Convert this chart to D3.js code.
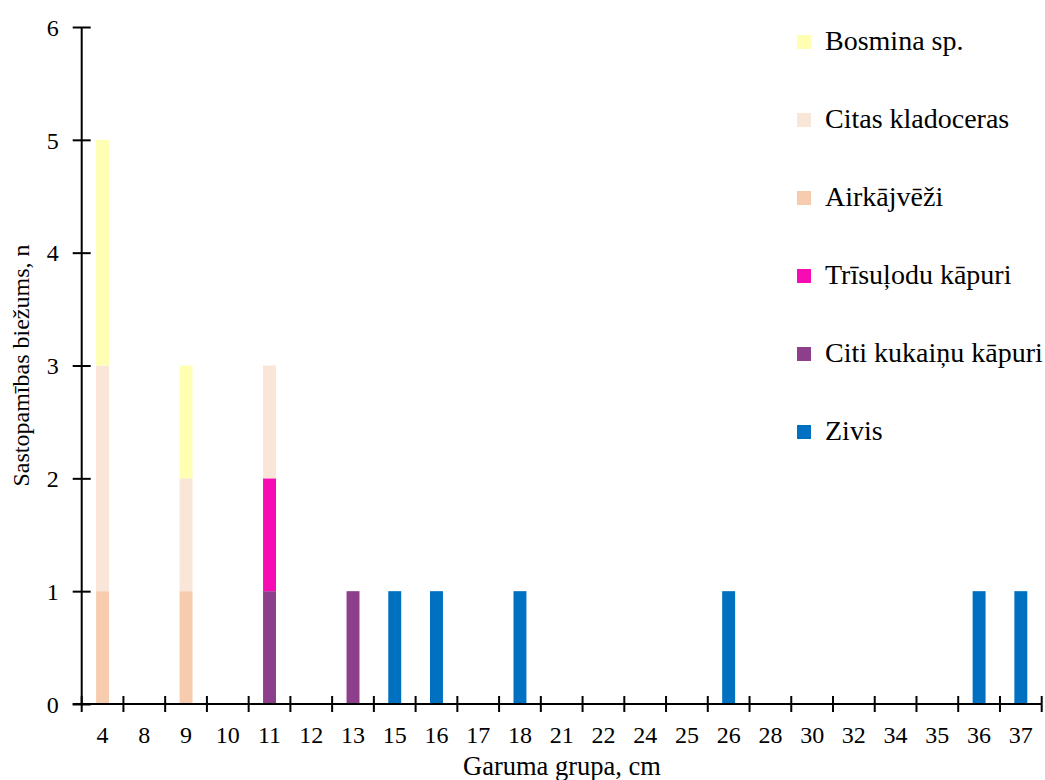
<!DOCTYPE html>
<html>
<head>
<meta charset="utf-8">
<script src="https://cdn.jsdelivr.net/npm/d3@7"></script>
<style>
  body { margin: 0; background: #fff; }
  svg text { font-family: "Liberation Serif", "Times New Roman", Times, serif !important; fill: #000; }
</style>
</head>
<body>
<svg id="chart" width="1045" height="780"></svg>
<script>
const categories = ["4","8","9","10","11","12","13","15","16","17","18","21","22","24","25","26","28","30","32","34","35","36","37"];
const seriesNames = ["Bosmina sp.","Citas kladoceras","Airkājvēži","Trīsuļodu kāpuri","Citi kukaiņu kāpuri","Zivis"];
const colors = ["#ffffb3","#fae5d9","#f7cbad","#f60cb2","#8d3f8b","#0070c0"];
// values per category, same order as categories
const bosmina      = [2,0,1,0,0,0,0,0,0,0,0,0,0,0,0,0,0,0,0,0,0,0,0];
const citasKlad    = [2,0,1,0,1,0,0,0,0,0,0,0,0,0,0,0,0,0,0,0,0,0,0];
const airkajvezi   = [1,0,1,0,0,0,0,0,0,0,0,0,0,0,0,0,0,0,0,0,0,0,0];
const trisulodu    = [0,0,0,0,1,0,0,0,0,0,0,0,0,0,0,0,0,0,0,0,0,0,0];
const citiKukainu  = [0,0,0,0,1,0,1,0,0,0,0,0,0,0,0,0,0,0,0,0,0,0,0];
const zivis        = [0,0,0,0,0,0,0,1,1,0,1,0,0,0,0,1,0,0,0,0,0,1,1];
const yTicks = [0,1,2,3,4,5,6];

const seriesValues = [bosmina, citasKlad, airkajvezi, trisulodu, citiKukainu, zivis];
const table = categories.map((c, i) => {
  const row = { cat: c };
  seriesNames.forEach((s, j) => row[s] = seriesValues[j][i]);
  return row;
});
// stack order: reverse of legend (Zivis bottom)
const stackKeys = seriesNames.slice().reverse();
const stacked = d3.stack().keys(stackKeys)(table);
const color = d3.scaleOrdinal().domain(seriesNames).range(colors);

const svg = d3.select("#chart");
const mLeft = 81.7, mRight = 1041.7, mTop = 27, mBottom = 704;

const x = d3.scaleBand().domain(categories).range([mLeft, mRight]).paddingInner(0.69).paddingOuter(0.345);
const xb = d3.scaleBand().domain(categories).range([mLeft, mRight]);
const y = d3.scaleLinear().domain([0, 6]).range([mBottom, mTop]);

svg.append("g").selectAll("g").data(stacked).join("g")
  .attr("fill", d => color(d.key))
  .selectAll("rect").data(d => d.filter(p => p[1] - p[0] > 0)).join("rect")
  .attr("x", d => x(d.data.cat))
  .attr("width", x.bandwidth())
  .attr("y", d => y(d[1]))
  .attr("height", d => y(d[0]) - y(d[1]));

// Y axis
const yAxis = svg.append("g").attr("transform", `translate(${mLeft},0)`)
  .call(d3.axisLeft(y).tickValues(yTicks).tickSize(9).tickPadding(14).tickFormat(d3.format("d")));
yAxis.attr("font-family", null);
yAxis.selectAll(".tick line").attr("x2", -9).attr("x1", 9);
yAxis.select(".domain").remove();
yAxis.append("line").attr("x1", 0).attr("x2", 0).attr("y1", mTop).attr("y2", mBottom).attr("stroke", "#000").attr("stroke-width", 2);
yAxis.selectAll(".tick line").attr("stroke", "#000").attr("stroke-width", 2);
yAxis.selectAll("text").attr("font-size", 24).attr("dy", "0.34em");

// X axis
const xAxis = svg.append("g").attr("transform", `translate(0,${mBottom})`)
  .call(d3.axisBottom(xb).tickSize(0).tickPadding(22));
xAxis.attr("font-family", null);
xAxis.select(".domain").remove();
xAxis.append("line").attr("x1", mLeft - 9).attr("x2", mRight).attr("y1", 0).attr("y2", 0).attr("stroke", "#000").attr("stroke-width", 2);
const boundaries = categories.map(c => xb(c)).concat([mRight]);
xAxis.append("g").selectAll("line").data(boundaries).join("line")
  .attr("x1", d => d).attr("x2", d => d).attr("y1", -8).attr("y2", 8)
  .attr("stroke", "#000").attr("stroke-width", 2);
xAxis.selectAll(".tick text").attr("font-size", 24);

// Axis titles
svg.append("text").attr("x", 562).attr("y", 775)
  .attr("text-anchor", "middle").attr("font-size", 26.5).text("Garuma grupa, cm");
svg.append("text").attr("transform", `translate(29,${(mTop + mBottom) / 2}) rotate(-90)`)
  .attr("text-anchor", "middle").attr("font-size", 24).text("Sastopamības biežums, n");

// Legend
const legend = svg.append("g").selectAll("g").data(seriesNames).join("g")
  .attr("transform", (d, i) => `translate(797,${42 + i * 78})`);
legend.append("rect").attr("x", 0).attr("y", -7).attr("width", 14).attr("height", 14).attr("fill", d => color(d));
legend.append("text").attr("x", 28).attr("y", 8).attr("font-size", 28).text(d => d);
</script>
</body>
</html>
